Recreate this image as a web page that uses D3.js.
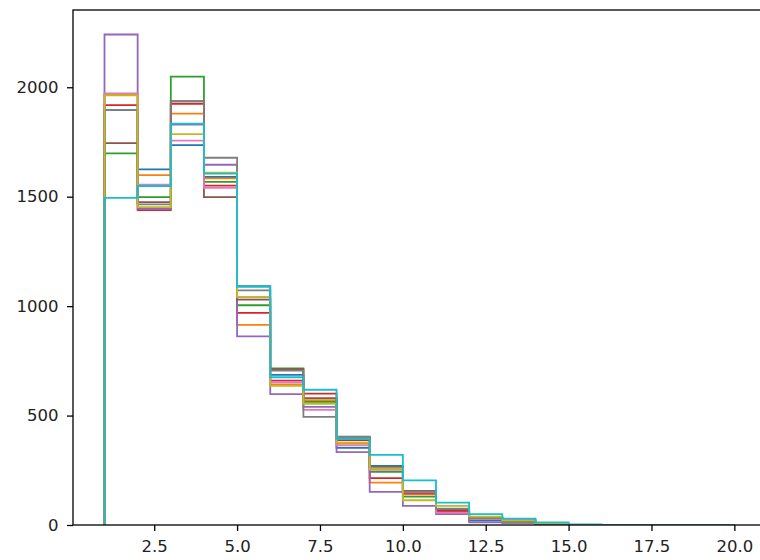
<!DOCTYPE html>
<html lang="en">
<head>
<meta charset="utf-8">
<title>Step histograms</title>
<script src="https://d3js.org/d3.v7.min.js"></script>
<style>
  body { margin: 0; background: #fff; }
  svg text { font-family: "DejaVu Sans", sans-serif; }
</style>
</head>
<body>
<svg id="chart" width="760" height="560"></svg>
<script>
// bin edges 1..20, counts per bin for each of the 10 runs
var binEdges = d3.range(1, 21);
var colors = ["#1f77b4", "#ff7f0e", "#2ca02c", "#d62728", "#9467bd",
              "#8c564b", "#e377c2", "#7f7f7f", "#bcbd22", "#17becf"];

var s0 = [1896, 1625, 1736, 1590, 1091, 686, 565, 352, 270, 150, 70, 20, 15, 4, 1, 0, 0, 0, 0];
var s1 = [1968, 1599, 1880, 1584, 914, 641, 570, 372, 194, 140, 65, 30, 23, 6, 1, 0, 0, 0, 0];
var s2 = [1698, 1498, 2049, 1568, 1004, 715, 563, 398, 243, 130, 60, 35, 18, 5, 1, 0, 0, 0, 0];
var s3 = [1918, 1439, 1924, 1551, 969, 660, 600, 388, 214, 145, 64, 30, 18, 5, 1, 0, 0, 0, 0];
var s4 = [2241, 1445, 1830, 1646, 862, 598, 540, 333, 151, 87, 50, 12, 10, 3, 0, 0, 0, 0, 0];
var s5 = [1745, 1475, 1937, 1498, 1030, 712, 580, 404, 265, 156, 56, 30, 15, 4, 1, 0, 0, 0, 0];
var s6 = [1972, 1555, 1756, 1541, 1040, 651, 526, 364, 252, 149, 56, 30, 23, 5, 1, 0, 0, 0, 0];
var s7 = [1896, 1465, 1935, 1678, 1072, 705, 494, 402, 262, 152, 75, 31, 11, 5, 1, 0, 0, 0, 0];
var s8 = [1963, 1452, 1786, 1610, 1042, 636, 554, 376, 258, 113, 87, 38, 20, 6, 1, 0, 0, 0, 0];
var s9 = [1495, 1549, 1834, 1605, 1088, 675, 618, 394, 320, 204, 102, 50, 29, 12, 3, 0, 0, 0, 0];
var series = [s0, s1, s2, s3, s4, s5, s6, s7, s8, s9];

var xTicks = [2.5, 5, 7.5, 10, 12.5, 15, 17.5, 20];
var yTicks = [0, 500, 1000, 1500, 2000];

var plotLeft = 73, plotTop = 10, plotBottom = 525;
var pxPerUnit = 33.15;

var x = d3.scaleLinear().domain([0.05, 20.95]).range([plotLeft, plotLeft + 20.9 * pxPerUnit]);
var ymax = d3.max(series, function(s) { return d3.max(s); }) * 1.05;
var y = d3.scaleLinear().domain([0, ymax]).range([plotBottom, plotTop]);

var svg = d3.select("#chart");

// clip to the axes box, the bottom spine hides the zero runs
svg.append("clipPath").attr("id", "plotclip")
  .append("rect")
  .attr("x", plotLeft).attr("y", plotTop)
  .attr("width", x.range()[1] - plotLeft).attr("height", plotBottom - plotTop - 0.6);

// step outline: starts at baseline, ends at baseline, open at the bottom
function stepPoints(counts) {
  var pts = [[binEdges[0], 0]];
  counts.forEach(function(c, i) {
    pts.push([binEdges[i], c]);
    pts.push([binEdges[i + 1], c]);
  });
  pts.push([binEdges[binEdges.length - 1], 0]);
  return pts;
}

var line = d3.line()
  .x(function(d) { return x(d[0]); })
  .y(function(d) { return y(d[1]); });

svg.append("g").attr("clip-path", "url(#plotclip)")
  .selectAll("path")
  .data(series)
  .enter().append("path")
  .attr("d", function(d) { return line(stepPoints(d)); })
  .attr("fill", "none")
  .attr("stroke", function(d, i) { return colors[i]; })
  .attr("stroke-width", 1.8)
  .attr("stroke-linejoin", "miter");

// axes
var xAxis = d3.axisBottom(x).tickValues(xTicks).tickFormat(d3.format(".1f"))
  .tickSize(6).tickPadding(9);
var yAxis = d3.axisLeft(y).tickValues(yTicks).tickFormat(d3.format("d"))
  .tickSize(6).tickPadding(8.5);

var gx = svg.append("g").attr("transform", "translate(0," + plotBottom + ")").call(xAxis);
var gy = svg.append("g").attr("transform", "translate(" + plotLeft + ",0)").call(yAxis);

[gx, gy].forEach(function(g) {
  g.select(".domain").remove();
  g.selectAll(".tick line").attr("stroke", "#000").attr("stroke-width", 1.3);
  g.selectAll(".tick text").attr("fill", "#222").style("font-size", "16.5px");
});

// spines (right one falls outside the picture)
var xr = x.range()[1];
svg.append("rect")
  .attr("x", plotLeft).attr("y", plotTop)
  .attr("width", xr - plotLeft).attr("height", plotBottom - plotTop)
  .attr("fill", "none").attr("stroke", "#000").attr("stroke-width", 1.3);
</script>
</body>
</html>
